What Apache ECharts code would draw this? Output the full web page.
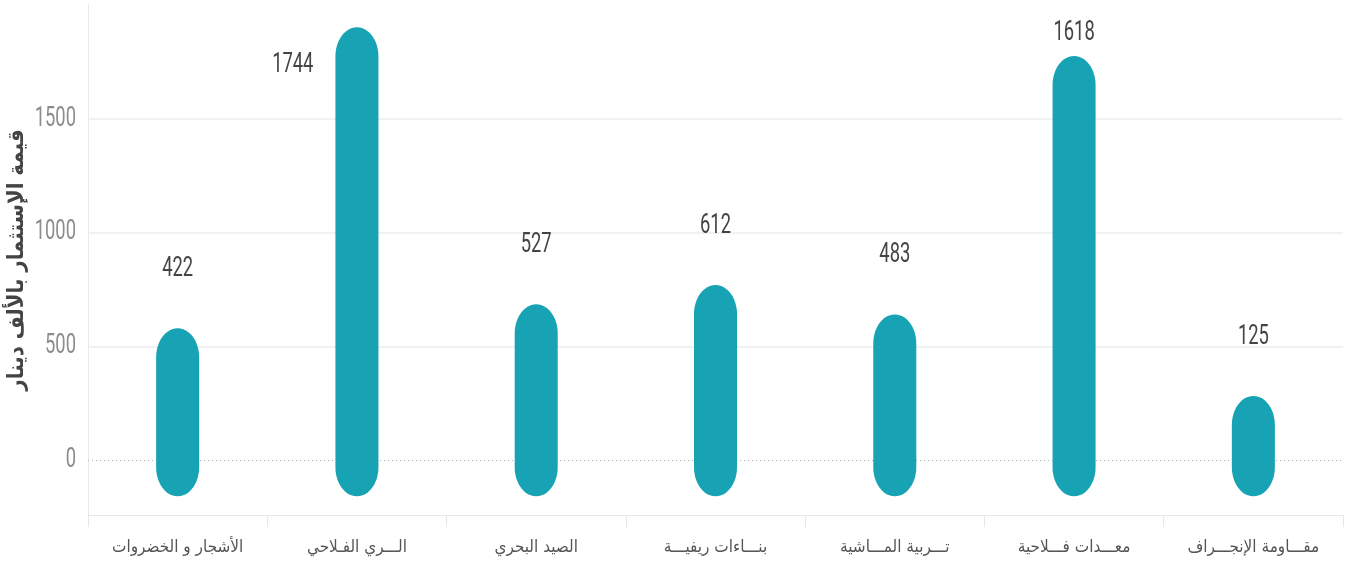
<!DOCTYPE html>
<html>
<head>
<meta charset="utf-8">
<script src="https://cdn.jsdelivr.net/npm/echarts@6.0.0/dist/echarts.min.js"></script>
<style>
  html, body { margin: 0; padding: 0; background: #fff; }
  #chart { width: 1352px; height: 570px; }
</style>
</head>
<body>
<div id="chart"></div>
<script>
const categories = [
  'الأشجار و الخضروات',
  'الـــري الفـلاحي',
  'الصيد البحري',
  'بنـــاءات ريفيـــة',
  'تـــربية المـــاشية',
  'معـــدات فـــلاحية',
  'مقـــاومة الإنجـــراف'
]
const values = [422, 1744, 527, 612, 483, 1618, 125]
const yTicks = [0, 500, 1000, 1500]
const yTitle = 'قيمة الإستثمار بالألف دينار'

const barColor = '#17a3b3'
const numFont = 'Roboto, "Noto Sans", sans-serif'
const arFont = '"DejaVu Sans Condensed", "DejaVu Sans", sans-serif'
const squeeze = 0.68 // the original numbers use a narrow face

const chart = echarts.init(document.getElementById('chart'))

// capsule from 0 to value, elliptic caps sticking out past both ends
function renderCapsule (params, api) {
  const i = api.value(0)
  const v = api.value(1)
  const top = api.coord([i, v])
  const base = api.coord([i, 0])
  const rx = api.size([1, 0])[0] * 0.12
  const ry = 29
  const ext = 36
  const cx = top[0]
  const yt = top[1] - ext + ry
  const yb = base[1] + ext - ry
  const pts = []
  const n = 24
  for (let k = 0; k <= n; k++) {
    const a = Math.PI * k / n
    pts.push([cx - rx * Math.cos(a), yt - ry * Math.sin(a)])
  }
  for (let k = 0; k <= n; k++) {
    const a = Math.PI * k / n
    pts.push([cx + rx * Math.cos(a), yb + ry * Math.sin(a)])
  }
  const children = [{ type: 'polygon', shape: { points: pts }, style: { fill: barColor } }]
  let ly = top[1] - 95
  let lx = cx
  let align = 'center'
  if (ly < -20) {
    // no room above: put it beside the capsule
    ly = top[1] + 2
    lx = cx - rx - 22
    align = 'right'
  } else if (ly < 33) {
    ly = 33
  }
  children.push({
    type: 'text',
    x: lx,
    y: ly,
    scaleX: squeeze,
    style: { text: String(v), align: align, verticalAlign: 'middle', fill: '#444', font: '27px ' + numFont }
  })
  return { type: 'group', children: children }
}

// y tick labels, drawn narrow like the original
function renderTick (params, api) {
  const t = api.value(1)
  const p = api.coord([0, t])
  const left = p[0] - api.size([1, 0])[0] / 2
  return {
    type: 'text',
    x: left - 12,
    y: p[1],
    scaleX: squeeze,
    style: { text: String(t), align: 'right', verticalAlign: 'middle', fill: '#8c8c8c', font: '27px ' + numFont }
  }
}

chart.setOption({
  animation: false,
  grid: { left: 88, right: 9, top: 5, bottom: 55, outerBoundsMode: 'none' },
  xAxis: {
    type: 'category',
    data: categories,
    boundaryGap: true,
    axisLine: { show: true, onZero: false, lineStyle: { color: '#e8e8e8', width: 1 } },
    axisTick: { show: true, length: 12, interval: 0, lineStyle: { color: '#e8e8e8' } },
    axisLabel: { interval: 0, margin: 24, color: '#555', fontSize: 17, fontFamily: arFont },
    splitLine: { show: false }
  },
  yAxis: {
    type: 'value',
    min: -240,
    max: 2000,
    name: yTitle,
    nameLocation: 'middle',
    nameRotate: 90,
    nameGap: 60,
    nameTextStyle: { fontSize: 22, fontWeight: 'bold', color: '#444', fontFamily: arFont },
    axisLine: { show: true, lineStyle: { color: '#e8e8e8' } },
    axisTick: { show: false },
    splitLine: { show: false },
    axisLabel: { show: false }
  },
  series: [
    {
      type: 'custom',
      data: values.map((v, i) => [i, v]),
      encode: { x: 0, y: 1 },
      renderItem: renderCapsule,
      z: 3,
      markLine: {
        silent: true,
        symbol: 'none',
        label: { show: false },
        z: 1,
        data: [
          { yAxis: yTicks[0], lineStyle: { color: '#b0b0b0', type: [1, 3], width: 1 } },
          ...yTicks.slice(1).map(t => ({ yAxis: t, lineStyle: { color: '#ececec', type: 'solid', width: 1.5 } }))
        ]
      }
    },
    {
      type: 'custom',
      data: yTicks.map(t => [0, t]),
      encode: { x: 0, y: 1 },
      renderItem: renderTick,
      clip: false,
      silent: true
    }
  ]
})
</script>
</body>
</html>
